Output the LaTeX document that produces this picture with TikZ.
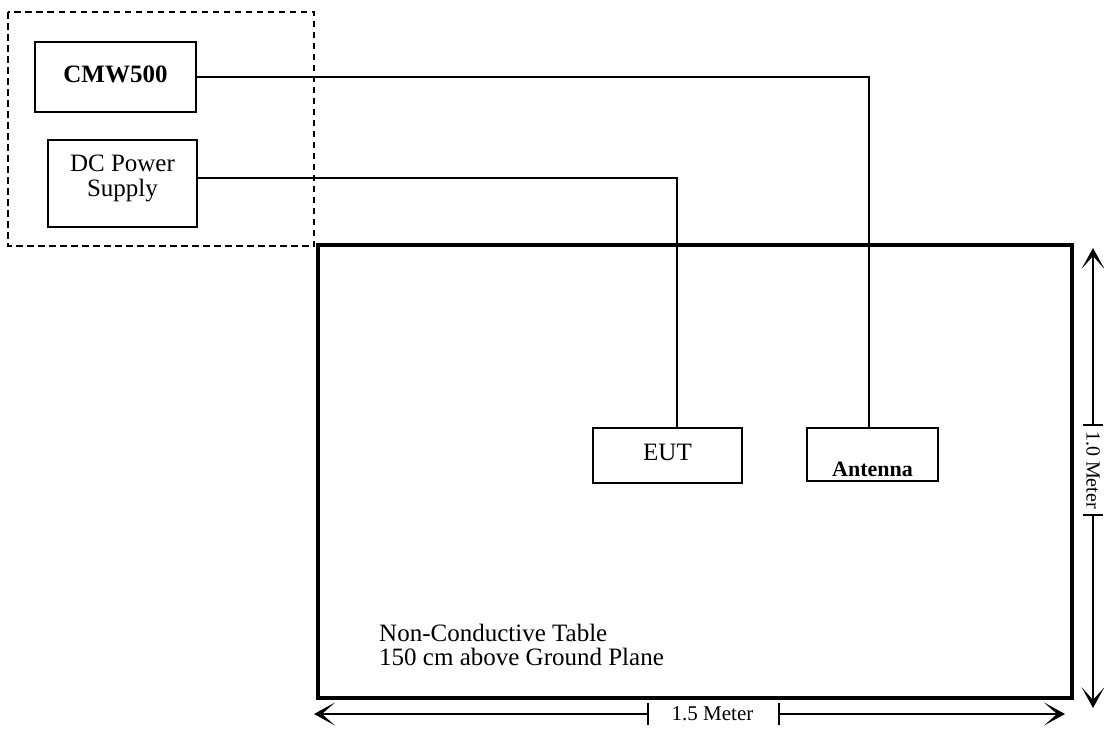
\documentclass[tikz,border=0pt]{standalone}
\usepackage{fontspec}
\setmainfont{Liberation Serif}
\usetikzlibrary{arrows.meta}
\tikzset{
  box/.style={draw, line width=1.7pt, inner sep=0pt, anchor=center},
  wire/.style={line width=1.5pt},
  dimline/.style={line width=1.4pt},
  dimtip/.style={-{Stealth[length=21pt,width=23pt,inset=13pt]}},
  big/.style={font=\fontsize{25}{25}\selectfont},
}
\begin{document}
\begin{tikzpicture}[x=1pt,y=-1pt]
\useasboundingbox (0,0) rectangle (1104,729);
% dashed enclosure
\draw[line width=1.5pt, dash pattern=on 6.5pt off 4.5pt] (8,12) rectangle (314,246);
% table
\draw[line width=3.2pt] (318,245) rectangle (1072,698);
% boxes
\node[box, big, minimum width=161pt, minimum height=70pt, text height=10pt, text depth=0pt] (cmw) at (115.5,77) {\textbf{CMW500}};
\node[box, minimum width=149pt, minimum height=87pt,
      label={[big, align=center, yshift=5pt]center:DC Power\\Supply}] (dc) at (122.5,183.5) {};
\node[box, big, minimum width=149pt, minimum height=55pt, text height=9pt, text depth=0pt] (eut) at (667.5,455.5) {EUT};
\node[box, font=\fontsize{22}{22}\selectfont, minimum width=131pt, minimum height=53pt, text height=44pt, text depth=0pt] (ant) at (872.5,454.5) {\textbf{Antenna}};
% connectors
\draw[wire] (cmw.east) -| ([xshift=-3.5pt]ant.north);
\draw[wire] ([yshift=5.5pt]dc.east) -| ([xshift=9.5pt]eut.north);
% table text
\node[big, align=left, anchor=north west, inner sep=0pt] (tbl) at (379,624) {Non-Conductive Table\\[-1pt]150 cm above Ground Plane};
% horizontal dimension
\coordinate (h1) at (314,714);
\coordinate (h2) at (1065,714);
\coordinate (ht1) at (648,714);
\coordinate (ht2) at (779,714);
\draw[dimline, dimtip] (ht1) -- (h1);
\draw[dimline, dimtip] (ht2) -- (h2);
\draw[dimline] ([yshift=11pt]ht1) -- ([yshift=-11pt]ht1);
\draw[dimline] ([yshift=11pt]ht2) -- ([yshift=-11pt]ht2);
\node[font=\fontsize{21}{21}\selectfont, inner sep=0pt] (hlab) at (712.5,714) {1.5 Meter};
% vertical dimension
\coordinate (v1) at (1093,248);
\coordinate (v2) at (1093,708);
\coordinate (vt1) at (1093,425);
\coordinate (vt2) at (1093,515);
\draw[dimline, dimtip] (vt1) -- (v1);
\draw[dimline, dimtip] (vt2) -- (v2);
\draw[dimline] ([xshift=-10pt]vt1) -- ([xshift=10pt]vt1);
\draw[dimline] ([xshift=-10pt]vt2) -- ([xshift=10pt]vt2);
\node[font=\fontsize{20}{20}\selectfont, inner sep=0pt, rotate=-90] (vlab) at (1093,470) {1.0 Meter};
\end{tikzpicture}
\end{document}
